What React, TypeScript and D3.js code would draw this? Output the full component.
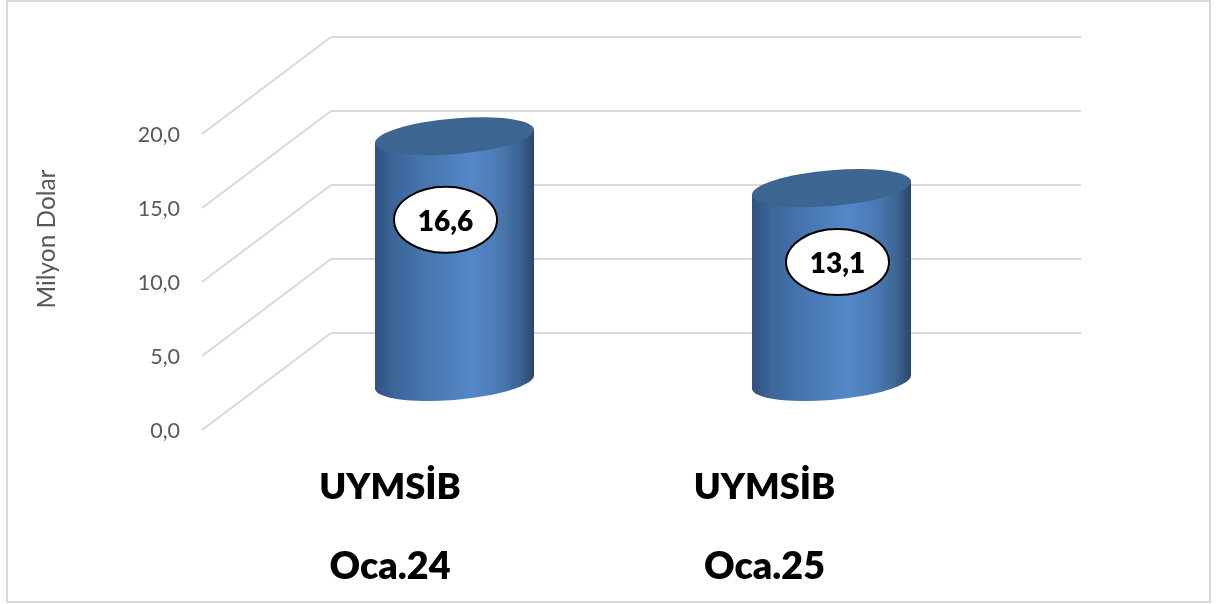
import React from "react";
import * as d3 from "d3";

const categories = ["UYMSİB", "UYMSİB"];
const periods = ["Oca.24", "Oca.25"];
const values = [16.6, 13.1];
const valueLabels = ["16,6", "13,1"];
const ticks = [0, 5, 10, 15, 20];
const axisTitle = "Milyon Dolar";

const W = 1217, H = 604;
const FONT = "Lato, 'Open Sans', sans-serif";
const yFront = d3.scaleLinear().domain([0, 20]).range([430, 134]);
const yBack = d3.scaleLinear().domain([0, 20]).range([333, 37]);
const yBar = d3.scaleLinear().domain([0, 20]).range([382, 86]);
const xBand = d3.scalePoint<number>().domain([0, 1]).range([454.5, 831.5]);
const xCat = d3.scalePoint<number>().domain([0, 1]).range([390, 764.5]);
const fmt = (v: number) => d3.format(".1f")(v).replace(".", ",");
const RX = 79.5, RY = 17.9, SHEAR = -0.082;
const labelOffset = [-9, 6];
const labelDy = [83.5, 74];

export default function App() {
  return (
    <svg width={W} height={H} style={{ position: "absolute", left: 0, top: 0, background: "#fff" }} fontFamily={FONT}>
      <defs>
        <linearGradient id="cyl" x1="0" x2="1" y1="0" y2="0">
          <stop offset="0" stopColor="#2f5180" />
          <stop offset="0.12" stopColor="#3c6699" />
          <stop offset="0.35" stopColor="#4878b3" />
          <stop offset="0.6" stopColor="#5487c7" />
          <stop offset="0.75" stopColor="#4d7db9" />
          <stop offset="0.9" stopColor="#3e6797" />
          <stop offset="1" stopColor="#2b466c" />
        </linearGradient>
        <filter id="soft" x="0" y="0" width="1" height="1" filterUnits="objectBoundingBox">
          <feGaussianBlur stdDeviation="0.4" />
        </filter>
      </defs>
      <g filter="url(#soft)">
        <rect x={0} y={0} width={W} height={H} fill="#fff" />
        <rect x={7} y={1} width={1203} height={601} fill="#fff" stroke="#d9d9d9" strokeWidth={2} />
        {ticks.map((t) => (
          <g key={t}>
            <path d={`M202,${yFront(t)}L331,${yBack(t)}L1081,${yBack(t)}`} fill="none" stroke="#d9d9d9" strokeWidth={2} />
            <text x={180} y={yFront(t) + 8} textAnchor="end" fontSize={21.5} fill="#595959">{fmt(t)}</text>
          </g>
        ))}
        <text transform="translate(55,239) rotate(-90)" textAnchor="middle" fontSize={24.4} fill="#595959">{axisTitle}</text>
        {values.map((v, i) => {
          const cx = xBand(i)!;
          const top = yBar(v), bot = yBar(0);
          return (
            <g key={i}>
              <g transform={`matrix(1,${SHEAR},0,1,${cx},0)`}>
                <path d={`M${-RX},${top}L${-RX},${bot}A${RX},${RY} 0 0 0 ${RX},${bot}L${RX},${top}Z`} fill="url(#cyl)" />
                <ellipse cx={0} cy={top} rx={RX} ry={RY} fill="#3e6591" />
              </g>
              <ellipse cx={cx + labelOffset[i]} cy={top + labelDy[i]} rx={51.5} ry={33} fill="#fff" stroke="#000" strokeWidth={2} />
              <text x={cx + labelOffset[i]} y={top + labelDy[i] + 11} textAnchor="middle" fontSize={28} fontWeight={800} fill="#000">{valueLabels[i]}</text>
              <text x={xCat(i)!} y={499} textAnchor="middle" fontSize={36.2} fontWeight={800} fill="#000">{categories[i]}</text>
              <text x={xCat(i)!} y={579} textAnchor="middle" fontSize={37.7} fontWeight={800} fill="#000">{periods[i]}</text>
            </g>
          );
        })}
      </g>
    </svg>
  );
}
